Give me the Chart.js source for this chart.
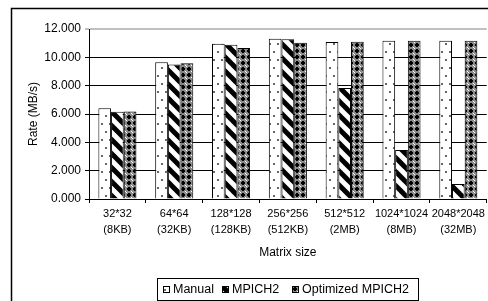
<!DOCTYPE html>
<html>
<head>
<meta charset="utf-8">
<script src="https://cdn.jsdelivr.net/npm/chart.js@4"></script>
<style>
  html, body { margin: 0; padding: 0; background: #fff; }
  #wrap { width: 488px; height: 301px; }
</style>
</head>
<body>
<div id="wrap"><canvas id="chart" width="488" height="301"></canvas></div>
<script>
// chart data
const categories = [
    ['32*32', '(8KB)'],
    ['64*64', '(32KB)'],
    ['128*128', '(128KB)'],
    ['256*256', '(512KB)'],
    ['512*512', '(2MB)'],
    ['1024*1024', '(8MB)'],
    ['2048*2048', '(32MB)']
];
const seriesNames = ['Manual', 'MPICH2', 'Optimized MPICH2'];
const manualRates = [6.40, 9.65, 10.96, 11.31, 11.08, 11.17, 11.17];
const mpichRates = [6.16, 9.50, 10.89, 11.27, 7.83, 3.46, 1.06];
const optimizedRates = [6.18, 9.58, 10.66, 11.03, 11.10, 11.17, 11.17];
const yTicks = [0, 2, 4, 6, 8, 10, 12];

const FONT = '"Liberation Sans", Arial, sans-serif';

function makeTile(w, h, draw) {
    const c = document.createElement('canvas');
    c.width = w;
    c.height = h;
    const g = c.getContext('2d');
    draw(g, w, h);
    return c.getContext('2d').createPattern(c, 'repeat');
}

// white with sparse dots
const dotPattern = makeTile(8, 16, (g, w, h) => {
    g.fillStyle = '#fff';
    g.fillRect(0, 0, w, h);
    g.fillStyle = '#666';
    g.fillRect(1, 3, 2, 2);
    g.fillRect(5, 11, 2, 2);
});

// wide downward diagonal stripes
const stripePattern = makeTile(14, 14, (g, w, h) => {
    g.fillStyle = '#fff';
    g.fillRect(0, 0, w, h);
    g.strokeStyle = '#000';
    g.lineWidth = 5;
    for (let k = -1; k <= 1; k++) {
        g.beginPath();
        g.moveTo(k * w - 2, -2);
        g.lineTo(k * w + w + 2, h + 2);
        g.stroke();
    }
});

// dark checker / cross pattern
const checkPattern = makeTile(6, 6, (g, w, h) => {
    g.fillStyle = '#8a8a8a';
    g.fillRect(0, 0, w, h);
    g.fillStyle = '#000';
    g.fillRect(2, 1, 2, 4);
    g.fillRect(1, 2, 4, 2);
    g.fillStyle = '#fff';
    g.fillRect(0, 0, 1, 1);
    g.fillRect(5, 5, 1, 1);
});

const patterns = [dotPattern, stripePattern, checkPattern];

const framePlugin = {
    id: 'frame',
    beforeDraw(chart) {
        const ctx = chart.ctx;
        ctx.save();
        ctx.fillStyle = '#fff';
        ctx.fillRect(0, 0, chart.width, chart.height);
        ctx.strokeStyle = '#000';
        ctx.lineWidth = 1.5;
        ctx.strokeRect(11.5, 8.5, 600, 400);
        ctx.restore();
    }
};

// legend in a framed box under the axis title
const legendPlugin = {
    id: 'boxLegend',
    afterDraw(chart) {
        const ctx = chart.ctx;
        const box = { x: 157, y: 278, w: 261, h: 22 };
        const itemX = [163, 222, 292];
        ctx.save();
        ctx.font = '12.5px ' + FONT;
        ctx.textBaseline = 'middle';
        ctx.fillStyle = '#fff';
        ctx.fillRect(box.x, box.y, box.w, box.h);
        ctx.strokeStyle = '#000';
        ctx.lineWidth = 1;
        ctx.strokeRect(box.x + 0.5, box.y + 0.5, box.w, box.h);

        const sw = 7;
        const cy = box.y + box.h / 2 + 0.5;
        const top = Math.round(cy - sw / 2);
        seriesNames.forEach((name, i) => {
            const x = itemX[i];
            ctx.save();
            ctx.translate(x, top);
            ctx.fillStyle = patterns[i];
            ctx.fillRect(0, 0, sw, sw);
            ctx.strokeStyle = '#000';
            ctx.strokeRect(0.5, 0.5, sw - 1, sw - 1);
            ctx.restore();
            ctx.fillStyle = '#000';
            ctx.fillText(name, x + sw + 3, cy);
        });
        ctx.restore();
    }
};

const seriesData = [manualRates, mpichRates, optimizedRates];

new Chart(document.getElementById('chart').getContext('2d'), {
    type: 'bar',
    data: {
        labels: categories,
        datasets: seriesNames.map((name, i) => ({
            label: name,
            data: seriesData[i],
            backgroundColor: patterns[i],
            borderColor: '#000',
            borderWidth: 1,
            categoryPercentage: 0.67,
            barPercentage: 1.0
        }))
    },
    options: {
        responsive: false,
        animation: false,
        layout: { padding: { left: 12, top: 29, right: 1, bottom: 39 } },
        scales: {
            x: {
                afterFit(scale) { scale.height = 63; },
                grid: {
                    drawOnChartArea: false,
                    drawTicks: true,
                    tickLength: 4,
                    color: '#000'
                },
                border: { display: true, color: '#000', width: 1 },
                ticks: {
                    color: '#000',
                    padding: 3,
                    maxRotation: 0,
                    autoSkip: false,
                    font: { family: FONT, size: 11, lineHeight: '16px' }
                },
                title: {
                    display: true,
                    text: 'Matrix size',
                    color: '#000',
                    font: { family: FONT, size: 12 },
                    padding: { top: 0, bottom: 2 }
                }
            },
            y: {
                min: yTicks[0],
                max: yTicks[yTicks.length - 1],
                afterFit(scale) { scale.width = 77; },
                afterBuildTicks(scale) { scale.ticks = yTicks.map(v => ({ value: v })); },
                grid: {
                    tickLength: 4,
                    color: c => (c.tick && c.tick.value === 12 ? '#c0c0c0' : '#000'),
                    lineWidth: c => (c.tick && c.tick.value === 12 ? 2 : 1)
                },
                border: { display: true, color: '#000', width: 1 },
                ticks: {
                    color: '#000',
                    padding: 4,
                    font: { family: FONT, size: 12 },
                    callback: v => Number(v).toFixed(3)
                },
                title: {
                    display: true,
                    text: 'Rate (MB/s)',
                    color: '#000',
                    font: { family: FONT, size: 12 },
                    padding: { top: 14, bottom: 0 }
                }
            }
        },
        plugins: {
            legend: { display: false },
            tooltip: { enabled: false }
        }
    },
    plugins: [framePlugin, legendPlugin]
});
</script>
</body>
</html>
